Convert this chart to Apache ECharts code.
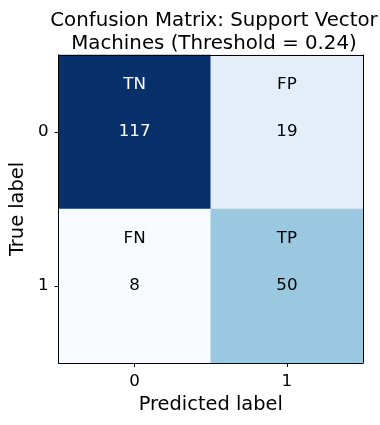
<!DOCTYPE html>
<html><head><meta charset="utf-8">
<script src="https://cdn.jsdelivr.net/npm/echarts@6/dist/echarts.min.js"></script>
<style>html,body{margin:0;padding:0;background:#fff}#c{width:380px;height:425px}</style>
</head><body><div id="c"></div>
<script>
const predLabels = ['0', '1'];
const trueLabels = ['0', '1'];
// [predicted index, true index, count]
const counts = [[0, 0, 117], [1, 0, 19], [0, 1, 8], [1, 1, 50]];
const cellNames = [[0, 0, 'TN'], [1, 0, 'FP'], [0, 1, 'FN'], [1, 1, 'TP']];
const blues = ['#f7fbff','#deebf7','#c6dbef','#9ecae1','#6baed6','#4292c6','#2171b5','#08519c','#08306b'];
const vMin = 8, vMax = 117, thresh = (vMin + vMax) / 2;
const font = 'DejaVu Sans';

const chart = echarts.init(document.getElementById('c'), null, {renderer: 'canvas'});
const cntMap = {};
counts.forEach(d => cntMap[d[0] + '_' + d[1]] = d[2]);

chart.setOption({
  animation: false,
  backgroundColor: '#fff',
  title: {
    text: 'Confusion Matrix: Support Vector\nMachines (Threshold = 0.24)',
    left: 209, top: 4, textAlign: 'center',
    textStyle: {fontFamily: font, fontSize: 19.8, fontWeight: 'normal', color: '#000', lineHeight: 23}
  },
  grid: {left: 55, top: 55, width: 308, height: 308},
  visualMap: {show: false, min: vMin, max: vMax, seriesIndex: 0, dimension: 2, inRange: {color: blues}},
  xAxis: [{
    type: 'category', data: predLabels, position: 'bottom', z: 10,
    name: 'Predicted label', nameLocation: 'middle', nameGap: 32,
    nameTextStyle: {fontFamily: font, fontSize: 19.4, color: '#000'},
    axisLine: {show: true, lineStyle: {color: '#000', width: 1}},
    axisTick: {show: true, alignWithLabel: true, length: 4, lineStyle: {color: '#000'}},
    axisLabel: {fontFamily: font, fontSize: 16.7, color: '#000', margin: 10},
    splitLine: {show: false}
  }, {
    type: 'category', data: predLabels, position: 'top', z: 10,
    axisLine: {show: true, lineStyle: {color: '#000', width: 1}},
    axisTick: {show: false}, axisLabel: {show: false}, splitLine: {show: false}
  }],
  yAxis: [{
    type: 'category', data: trueLabels, inverse: true, position: 'left', z: 10,
    name: 'True label', nameLocation: 'middle', nameGap: 29, nameRotate: 90,
    nameTextStyle: {fontFamily: font, fontSize: 19.4, color: '#000'},
    axisLine: {show: true, lineStyle: {color: '#000', width: 1}},
    axisTick: {show: true, alignWithLabel: true, length: 4, lineStyle: {color: '#000'}},
    axisLabel: {fontFamily: font, fontSize: 16.7, color: '#000', margin: 10},
    splitLine: {show: false}
  }, {
    type: 'category', data: trueLabels, inverse: true, position: 'right', z: 10,
    axisLine: {show: true, lineStyle: {color: '#000', width: 1}},
    axisTick: {show: false}, axisLabel: {show: false}, splitLine: {show: false}
  }],
  series: [{
    type: 'heatmap', z: 1,
    data: counts.map(d => ({value: d, label: {color: d[2] > thresh ? '#fff' : '#000'}})),
    label: {
      show: true, fontFamily: font, fontSize: 16.7,
      formatter: p => String(p.value[2])
    },
    itemStyle: {borderWidth: 0},
    emphasis: {disabled: true}
  }, {
    type: 'scatter', symbolSize: 0, z: 5,
    itemStyle: {opacity: 1},
    data: cellNames.map(d => ({value: [d[0], d[1]], label: {color: cntMap[d[0] + '_' + d[1]] > thresh ? '#fff' : '#000'}})),
    label: {
      show: true, position: 'inside', offset: [0, -47], fontFamily: font, fontSize: 16.7,
      formatter: p => cellNames[p.dataIndex][2]
    },
    emphasis: {disabled: true}
  }]
});
</script></body></html>
